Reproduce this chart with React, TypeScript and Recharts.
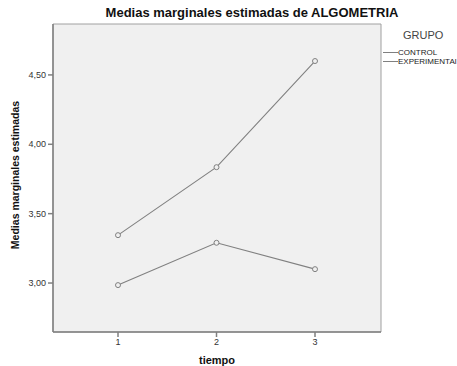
import React from 'react';
import {
  LineChart,
  Line,
  XAxis,
  YAxis,
  ReferenceArea
} from 'recharts';

// estimated marginal means
const tiempo = [1, 2, 3];
const control = [3.345, 3.835, 4.6];
const experimental = [2.985, 3.29, 3.1];
const yTicks = [3, 3.5, 4, 4.5];
const groups = ['CONTROL', 'EXPERIMENTAl'];

const X_DOMAIN = [0.34, 3.67];
const Y_DOMAIN = [2.647, 4.867];

const data = tiempo.map((t, i) => ({
  t,
  control: control[i],
  experimental: experimental[i]
}));

const FONT = '"Liberation Sans", Arial, sans-serif';
const LINE = '#808080';

const fmt = (v: number) => v.toFixed(2).replace('.', ',');

const LegendBox = () => (
  <div style={{ position: 'absolute', left: 383, top: 29, fontFamily: FONT, color: '#222' }}>
    <div style={{ fontSize: 11, color: '#444', marginLeft: 20, marginBottom: 7 }}>GRUPO</div>
    {groups.map(g => (
      <div key={g} style={{ display: 'flex', alignItems: 'center', height: 9, fontSize: 8 }}>
        <span style={{ display: 'inline-block', width: 15, borderTop: `1px solid ${LINE}` }} />
        <span style={{ whiteSpace: 'nowrap' }}>{g}</span>
      </div>
    ))}
  </div>
);

export default function App() {
  return (
    <div style={{ position: 'absolute', left: 0, top: 0, width: 457, height: 366, background: '#fff', fontFamily: FONT, overflow: 'hidden' }}>
      <LineChart width={457} height={366} data={data} margin={{ top: 24, right: 76, bottom: 0, left: 0 }}>
        <ReferenceArea
          x1={X_DOMAIN[0]}
          x2={X_DOMAIN[1]}
          y1={Y_DOMAIN[0]}
          y2={Y_DOMAIN[1]}
          fill="#f0f0f0"
          fillOpacity={1}
          stroke="#a0a0a0"
          strokeWidth={1}
          ifOverflow="visible"
        />
        <XAxis
          dataKey="t"
          type="number"
          domain={X_DOMAIN}
          ticks={tiempo}
          height={34}
          stroke={LINE}
          strokeWidth={1.5}
          tickSize={5}
          tick={{ fontSize: 9, fill: '#333', fontFamily: FONT }}
          allowDataOverflow
        />
        <YAxis
          type="number"
          domain={Y_DOMAIN}
          ticks={yTicks}
          width={53}
          stroke={LINE}
          strokeWidth={1.5}
          tickSize={5}
          tickFormatter={fmt}
          tick={{ fontSize: 9, fill: '#333', fontFamily: FONT }}
          allowDataOverflow
        />
        <Line
          dataKey="control"
          name="CONTROL"
          stroke={LINE}
          strokeWidth={1.1}
          dot={{ r: 2.5, fill: '#f0f0f0', stroke: LINE, strokeWidth: 1 }}
          isAnimationActive={false}
        />
        <Line
          dataKey="experimental"
          name="EXPERIMENTAL"
          stroke={LINE}
          strokeWidth={1.1}
          dot={{ r: 2.5, fill: '#f0f0f0', stroke: LINE, strokeWidth: 1 }}
          isAnimationActive={false}
        />
      </LineChart>
      <div style={{ position: 'absolute', left: 52, width: 400, top: 5, textAlign: 'center', fontSize: 13, fontWeight: 'bold', color: '#111' }}>
        Medias marginales estimadas de ALGOMETRIA
      </div>
      <div style={{ position: 'absolute', left: 15, top: 175, transform: 'translate(-50%, -50%) rotate(-90deg)', whiteSpace: 'nowrap', fontSize: 10.5, fontWeight: 'bold', color: '#111' }}>
        Medias marginales estimadas
      </div>
      <div style={{ position: 'absolute', left: 167, width: 100, top: 354, textAlign: 'center', fontSize: 11, fontWeight: 'bold', color: '#111' }}>
        tiempo
      </div>
      <LegendBox />
    </div>
  );
}
